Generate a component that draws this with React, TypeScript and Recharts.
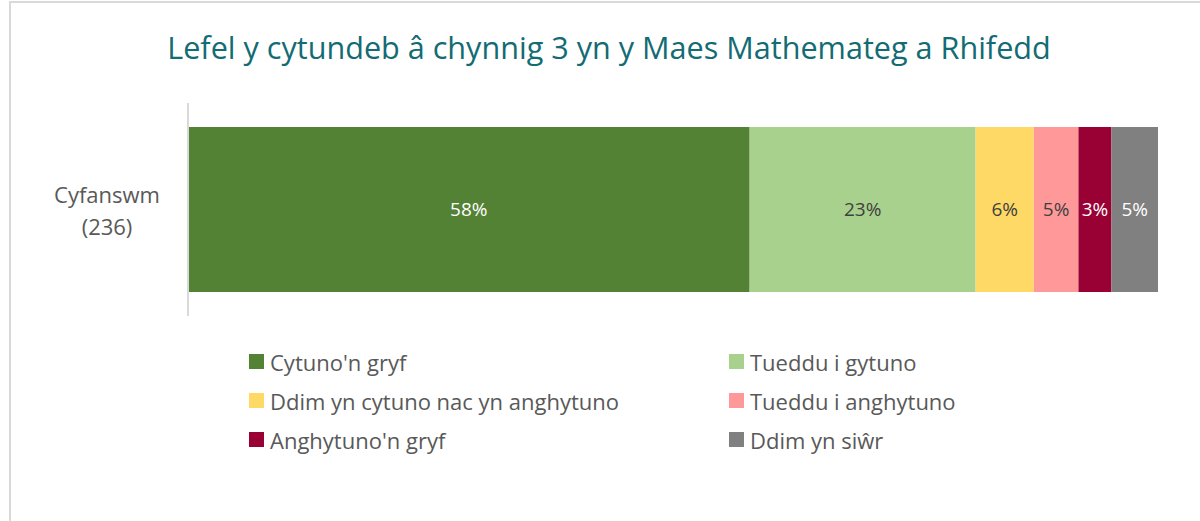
import React from "react";
import { Bar, BarChart, LabelList, XAxis, YAxis } from "recharts";

const categories = ["Cyfanswm (236)"];
const seriesNames = [
  "Cytuno'n gryf",
  "Tueddu i gytuno",
  "Ddim yn cytuno nac yn anghytuno",
  "Tueddu i anghytuno",
  "Anghytuno'n gryf",
  "Ddim yn siŵr",
];
// percentages per series, one value per category
const cytunoGryf = [57.9];
const tueddCytuno = [23.3];
const ddimCytuno = [6.0];
const tueddAnghytuno = [4.6];
const anghytunoGryf = [3.4];
const ddimSiwr = [4.8];

const colors = ["#548235", "#a9d18e", "#ffd966", "#ff9999", "#990033", "#808080"];
const labelColors = ["#ffffff", "#404040", "#404040", "#404040", "#ffffff", "#ffffff"];

const seriesValues = [cytunoGryf, tueddCytuno, ddimCytuno, tueddAnghytuno, anghytunoGryf, ddimSiwr];
const keys = ["s0", "s1", "s2", "s3", "s4", "s5"];

const data = categories.map((name, i) => {
  const row: Record<string, string | number> = { name };
  seriesValues.forEach((vals, k) => {
    row[keys[k]] = vals[i];
  });
  return row;
});

const FONT = "'Open Sans', 'Noto Sans', sans-serif";

const CategoryTick = (props: any) => {
  const { x, y, payload } = props;
  const m = String(payload.value).match(/^(.*) (\(.*\))$/);
  const lines = m ? [m[1], m[2]] : [String(payload.value)];
  return (
    <g>
      {lines.map((ln, i) => (
        <text
          key={i}
          x={x - 73}
          y={y + (i - (lines.length - 1) / 2) * 32}
          textAnchor="middle"
          dominantBaseline="central"
          fill="#595959"
          fontSize={22}
          fontFamily={FONT}
        >
          {ln}
        </text>
      ))}
    </g>
  );
};

const LegendBox = () => (
  <div
    style={{
      display: "grid",
      gridTemplateColumns: "480px 300px",
      rowGap: 10,
      fontFamily: FONT,
      fontSize: 22,
      color: "#595959",
    }}
  >
    {seriesNames.map((n, i) => (
      <div key={n} style={{ display: "flex", alignItems: "center", height: 29 }}>
        <span
          style={{
            display: "inline-block",
            width: 15,
            height: 15,
            background: colors[i],
            marginRight: 6,
            flexShrink: 0,
          }}
        />
        <span style={{ whiteSpace: "nowrap" }}>{n}</span>
      </div>
    ))}
  </div>
);

export default function App() {
  return (
    <div
      style={{
        position: "absolute",
        left: 0,
        top: 0,
        width: 1200,
        height: 521,
        overflow: "hidden",
        background: "#ffffff",
      }}
    >
      <div
        style={{
          position: "absolute",
          left: 9,
          top: 1,
          width: 1300,
          height: 600,
          border: "2px solid #d9d9d9",
        }}
      />
      <div
        style={{
          position: "absolute",
          left: 0,
          top: 25,
          width: 1218,
          textAlign: "center",
          fontFamily: FONT,
          fontSize: 30.6,
          lineHeight: "44px",
          color: "#136b74",
        }}
      >
        Lefel y cytundeb â chynnig 3 yn y Maes Mathemateg a Rhifedd
      </div>
      <div style={{ position: "absolute", left: 0, top: 0 }}>
        <BarChart
          width={1200}
          height={521}
          data={data}
          layout="vertical"
          margin={{ top: 103, right: 42, bottom: 205, left: 0 }}
          barCategoryGap={24}
        >
          <XAxis type="number" domain={[0, 100]} hide />
          <YAxis
            type="category"
            dataKey="name"
            width={188}
            axisLine={{ stroke: "#d9d9d9", strokeWidth: 2 }}
            tickLine={false}
            tick={<CategoryTick />}
          />
          {keys.map((k, i) => (
            <Bar
              key={k}
              dataKey={k}
              name={seriesNames[i]}
              stackId="a"
              fill={colors[i]}
              isAnimationActive={false}
            >
              <LabelList
                dataKey={k}
                position="center"
                formatter={(v: any) => `${Math.round(Number(v))}%`}
                fill={labelColors[i]}
                fontSize={19}
                fontFamily={FONT}
              />
            </Bar>
          ))}
        </BarChart>
      </div>
      <div style={{ position: "absolute", left: 249, top: 347, width: 800 }}>
        <LegendBox />
      </div>
    </div>
  );
}
